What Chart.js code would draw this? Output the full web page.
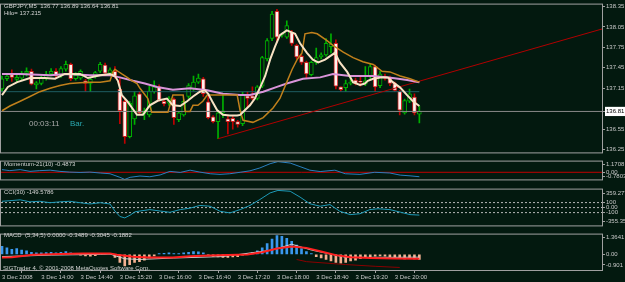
<!DOCTYPE html>
<html>
<head>
<meta charset="utf-8">
<script src="https://cdn.jsdelivr.net/npm/chart.js@4.4.1/dist/chart.umd.min.js"></script>
<style>
  body { margin: 0; background: #03190f; width: 625px; height: 282px; overflow: hidden; position: relative; font-family: 'Liberation Sans', Arial, sans-serif; }
  canvas { position: absolute; left: 0; }
  .t { position: absolute; font-size: 6px; line-height: 7px; color: #d4d4d4; white-space: pre; }
</style>
</head>
<body>
<canvas id="cMain" width="625" height="157" style="top:0"></canvas>
<canvas id="cMom" width="625" height="27" style="top:157px"></canvas>
<canvas id="cCci" width="625" height="45" style="top:185px"></canvas>
<canvas id="cMacd" width="625" height="52" style="top:230px"></canvas>

<div class="t" style="left:4px;top:3px">GBPJPY,M5  136.77 136.89 136.64 136.81</div>
<div class="t" style="left:4px;top:10px">Hilo= 137.215</div>
<div class="t" style="left:29px;top:119px;font-size:8px;line-height:9px;color:#a8a8a8">00:03:11</div>
<div class="t" style="left:70px;top:119px;font-size:8px;line-height:9px;color:#2aa8b0">Bar.</div>
<div class="t" style="left:4px;top:161px">Momentum-21(10) -0.4873</div>
<div class="t" style="left:4px;top:189px">CCI(30) -149.5786</div>
<div class="t" style="left:4px;top:232px">MACD  (5,34,5) 0.0000 -0.3489 -0.3045 -0.1882</div>
<div class="t" style="left:3px;top:265px">SIGTrader 4, © 2001-2008 MetaQuotes Software Corp.</div>

<script>
// GBPJPY M5, 3 Dec 2008 13:20 .. 20:25 (86 bars)
const opens  = [137.14,137.29,137.35,137.28,137.30,137.37,137.40,137.20,137.22,137.29,137.36,137.40,137.33,137.43,137.50,137.29,137.30,137.26,137.22,137.33,137.40,137.49,137.37,137.40,137.14,136.96,136.44,136.70,137.07,136.78,136.76,137.10,137.17,136.96,136.93,136.99,136.69,136.76,137.03,137.14,137.24,137.29,136.95,136.73,136.66,136.79,136.70,136.71,136.66,136.63,137.04,137.04,137.00,137.18,137.58,137.88,138.28,137.93,137.90,137.97,137.78,137.62,137.53,137.35,137.53,137.61,137.64,137.76,137.81,137.17,137.16,137.22,137.27,137.25,137.21,137.32,137.47,137.19,137.33,137.31,137.22,137.11,136.79,136.96,137.02,136.77];
const highs  = [137.33,137.36,137.42,137.34,137.40,137.45,137.43,137.25,137.33,137.40,137.44,137.44,137.47,137.55,137.52,137.38,137.42,137.28,137.31,137.40,137.53,137.52,137.45,137.47,137.31,136.99,136.96,137.10,137.10,136.86,137.18,137.26,137.20,136.98,137.03,137.01,136.80,136.98,137.22,137.33,137.36,137.31,137.04,136.75,136.82,137.07,136.75,136.74,136.68,137.09,137.10,137.17,137.19,137.62,137.88,138.28,138.31,137.96,138.14,138.00,137.80,137.64,137.55,137.55,137.74,137.67,137.88,137.95,137.86,137.17,137.27,137.31,137.30,137.33,137.47,137.50,137.49,137.40,137.36,137.33,137.24,137.12,136.99,137.14,137.07,136.89];
const lows   = [137.10,137.26,137.25,137.24,137.27,137.33,137.20,137.14,137.20,137.27,137.33,137.30,137.31,137.40,137.26,137.27,137.28,137.10,137.10,137.30,137.38,137.34,137.35,137.30,136.63,136.34,136.42,136.62,136.76,136.69,136.73,137.08,136.96,136.89,136.90,136.62,136.66,136.74,137.00,137.12,137.22,137.03,136.70,136.64,136.41,136.72,136.48,136.55,136.58,136.60,136.88,136.98,136.98,137.16,137.55,137.85,137.82,137.90,137.88,137.78,137.58,137.50,137.29,137.33,137.50,137.58,137.62,137.67,137.14,137.10,137.10,137.20,137.20,137.18,137.19,137.29,137.10,137.16,137.27,137.19,137.10,136.76,136.77,136.94,136.76,136.64];
const closes = [137.29,137.33,137.31,137.31,137.37,137.40,137.21,137.23,137.30,137.36,137.40,137.33,137.44,137.50,137.29,137.34,137.40,137.22,137.28,137.38,137.50,137.37,137.42,137.33,136.82,136.44,136.93,137.04,136.79,136.82,137.11,137.17,136.98,136.92,137.00,136.72,136.79,136.96,137.19,137.24,137.30,137.07,136.72,136.66,136.79,136.82,136.66,136.66,136.62,137.06,137.00,137.00,137.17,137.60,137.85,138.24,137.90,137.93,138.07,137.81,137.61,137.53,137.36,137.53,137.60,137.64,137.81,137.80,137.18,137.13,137.22,137.24,137.22,137.24,137.26,137.47,137.17,137.36,137.30,137.22,137.12,136.83,136.97,137.07,136.79,136.81];

// moving averages: [bar index, price]
const maFast = [[0,137.05],[1.2,137.17],[3.1,137.24],[5.7,137.30],[8.8,137.30],[10.8,137.29],[12.8,137.36],[15.9,137.36],[17.5,137.30],[20,137.34],[22,137.36],[23,137.33],[23.6,137.26],[24.4,137.05],[25.5,136.96],[26.5,136.86],[27.5,136.76],[28.7,136.76],[30.1,136.90],[31.8,136.97],[33.6,137.00],[34.8,136.90],[36.3,136.89],[37.7,136.96],[38.9,137.03],[40.3,137.10],[41.3,137.12],[42,137.07],[42.8,136.96],[43.8,136.83],[45,136.76],[46.4,136.75],[47.9,136.75],[48.5,136.76],[49.5,136.83],[50.5,136.90],[51.5,137.00],[52.5,137.15],[53.6,137.33],[54.6,137.57],[55.6,137.76],[56.6,137.93],[58,138.00],[59.7,137.95],[60.7,137.81],[62.1,137.67],[63.3,137.57],[64.4,137.53],[65.8,137.57],[67.2,137.64],[67.8,137.67],[68.8,137.53],[70.3,137.39],[71.5,137.24],[72.9,137.20],[73.9,137.22],[74.5,137.26],[75.6,137.29],[77.4,137.31],[78.6,137.31],[79.6,137.24],[81.1,137.16],[82.5,137.05],[83.7,136.96],[85,136.89]];
const maSlowOrange = [[0,136.82],[1.6,136.89],[3.7,136.96],[5.7,137.03],[7.7,137.10],[9.8,137.15],[11.8,137.19],[13.8,137.22],[15.9,137.23],[17.9,137.24],[20,137.24],[22,137.26],[22.6,137.39],[23,137.43],[23.6,137.40],[24.4,137.36],[25.5,137.31],[26.5,137.26],[27.5,137.22],[28.1,137.15],[29.7,137.00],[30.5,136.80],[33.8,136.80],[34.8,137.05],[36.9,137.05],[37.3,136.81],[38.3,136.81],[38.9,136.90],[39.9,136.90],[40.9,136.96],[41.8,137.05],[47.9,137.05],[48.5,136.82],[49.1,136.68],[51.1,136.65],[53.2,136.72],[55.2,136.86],[56.6,137.00],[58,137.24],[59.1,137.43],[60.1,137.57],[61.1,137.67],[61.7,137.95],[63.1,137.97],[64.2,137.95],[66.2,137.85],[67.4,137.78],[69.5,137.68],[71.5,137.60],[73.5,137.54],[75.6,137.50],[77.4,137.40],[79,137.39],[81.1,137.33],[83.1,137.29],[85,137.24]];
const maViolet = [[0,137.36],[3.7,137.36],[9.8,137.34],[13.2,137.36],[17.9,137.34],[22,137.34],[24,137.31],[26.7,137.26],[29.1,137.22],[31.6,137.17],[34.8,137.13],[38.3,137.15],[41.8,137.12],[45,137.07],[48.5,137.05],[50.5,137.05],[53.2,137.10],[56,137.17],[58,137.22],[61.3,137.29],[64.8,137.31],[67.4,137.36],[70.9,137.33],[75.6,137.33],[79.6,137.30],[82.5,137.27],[85,137.24]];
const trendLine = [[44,136.41],[122.2,138.02]];
const levelTeal = 137.10;
const bidPrice = 136.81;
const priceTicks = [136.25,136.55,136.81,137.15,137.45,137.75,138.05,138.35];

// indicators: [bar index, value]
const momentum = [[0,0.29],[1.6,0.18],[3.7,0.29],[5.7,0.10],[7.7,0.18],[9.8,0.23],[11.8,0.10],[13.8,0.02],[15.9,-0.02],[17.9,0.02],[20,-0.08],[22,-0.16],[24,-0.55],[25,-0.78],[26.1,-0.55],[28.1,-0.41],[30.1,-0.49],[32.2,-0.29],[34.2,0.10],[36.3,-0.02],[38.3,0.23],[40.3,0.02],[42.4,-0.16],[44.4,-0.23],[46.4,-0.16],[48.5,0.0],[50.5,0.16],[52.5,0.47],[54.6,0.94],[56.2,1.17],[58.7,1.01],[60.7,0.62],[62.7,0.23],[64.8,0.08],[67.8,0.23],[69.9,-0.16],[72.9,-0.23],[75.9,0.0],[79,-0.08],[81.1,-0.31],[83.1,-0.39],[85,-0.4873]];
const cci = [[0,126],[1.6,138],[3.7,155],[5.7,115],[7.7,126],[9.8,98],[11.8,115],[13.8,126],[15.9,98],[17.9,72],[20,98],[22,72],[23,-68],[24,-177],[25,-206],[26.1,-151],[27.1,-84],[28.1,-68],[30.1,-40],[32.2,-68],[34.2,-94],[36.3,-40],[38.3,-11],[40.3,43],[42.4,27],[44.4,-73],[46.4,-106],[48.5,-40],[50.5,43],[52.5,160],[54.6,293],[56.2,343],[58.7,326],[60.7,210],[62.7,77],[64.8,27],[66.8,60],[68.8,-73],[70.9,-140],[72.9,-123],[74.9,-40],[76.6,-23],[79,-40],[81.1,-90],[83.1,-140],[85,-149.58]];
const macdHist = [0.55,0.45,0.35,0.40,0.30,0.25,0.15,0.10,0.10,0.12,0.15,0.10,0.15,0.20,0.10,0.08,-0.05,-0.10,-0.12,-0.08,0.03,0.05,0.03,-0.20,-0.55,-0.80,-0.70,-0.55,-0.50,-0.40,-0.25,-0.10,0.05,0.08,0.10,0.05,0.05,0.10,0.15,0.20,0.18,0.10,-0.05,-0.15,-0.18,-0.20,-0.20,-0.18,-0.15,-0.05,0.05,0.12,0.25,0.45,0.75,1.05,1.30,1.25,1.10,0.90,0.65,0.40,0.20,0.05,-0.15,-0.25,-0.35,-0.45,-0.55,-0.60,-0.55,-0.45,-0.40,-0.30,-0.20,-0.15,-0.12,-0.10,-0.12,-0.15,-0.20,-0.28,-0.32,-0.30,-0.32,-0.3489];
const macdRed = [[0,-0.22],[2,-0.19],[6.3,-0.03],[9.8,0.01],[16.5,0.07],[22,0.07],[23.4,-0.03],[26.7,-0.16],[30.1,-0.22],[34.8,-0.22],[38.3,-0.13],[42.4,-0.07],[46,-0.05],[50,0.0],[53,0.15],[56,0.4],[59,0.55],[62,0.45],[65,0.2],[68,-0.05],[71,-0.2],[75,-0.25],[80,-0.28],[85,-0.3045]];
const macdGray = [[0,-0.15],[10,-0.05],[20,0.0],[22,0.02],[25,-0.3],[28,-0.35],[35,-0.25],[45,-0.15],[55,0.3],[59,0.7],[63,0.3],[70,-0.2],[80,-0.2],[85,-0.1882]];
const macdDark = [[60,-0.35],[62,-0.5],[70,-0.7],[76,-0.82],[81,-0.90]];

const timeTickIdx = [0,8,16,24,32,40,48,56,64,72,80];
const timeLabels = ['3 Dec 2008','3 Dec 14:00','3 Dec 14:40','3 Dec 15:20','3 Dec 16:00','3 Dec 16:40','3 Dec 17:20','3 Dec 18:00','3 Dec 18:40','3 Dec 19:20','3 Dec 20:00'];

const XMIN = -0.204, XMAX = 122.2;
const BG = '#03190f', AXIS = '#a0a0a0', TXT = '#c8c8c8';
const UP = '#00b000', DN = '#d02020';
const FONT = { family: "'Liberation Sans', Arial, sans-serif", size: 6 };

const frame = {
  id: 'frame',
  afterDraw(c) {
    const a = c.chartArea, g = c.ctx;
    g.save();
    g.strokeStyle = AXIS;
    g.lineWidth = 1;
    g.strokeRect(a.left - 0.5, a.top - 0.5, a.right - a.left + 1, a.bottom - a.top + 1);
    g.restore();
  }
};

const pts = arr => arr.map(p => ({ x: p[0], y: p[1] }));
const hline = (v, from = XMIN, to = XMAX) => [{ x: from, y: v }, { x: to, y: v }];
const line = (data, color, width, extra = {}) => Object.assign({
  type: 'line', data, borderColor: color, borderWidth: width, pointRadius: 0, tension: 0, order: 1
}, extra);

function xScale(show) {
  const s = { type: 'linear', min: XMIN, max: XMAX, offset: false, display: show, grid: { display: false } };
  if (show) {
    Object.assign(s, {
      afterBuildTicks: sc => { sc.ticks = timeTickIdx.map(v => ({ value: v })); },
      afterFit: sc => { sc.height = 12; },
      ticks: { autoSkip: false, maxRotation: 0, align: 'start', padding: 1, font: FONT, color: TXT,
               callback: (v, k) => timeLabels[k] },
      grid: { display: true, drawOnChartArea: false, tickLength: 3, color: AXIS },
      border: { color: AXIS }
    });
  }
  return s;
}

// y axis; labels = [[position value, text], ...]
function yScale(min, max, labels, extraTicks = {}) {
  return {
    position: 'right', min, max,
    afterBuildTicks: sc => { sc.ticks = labels.map(l => ({ value: l[0] })); },
    afterFit: sc => { sc.width = 23; },
    ticks: Object.assign({ autoSkip: false, padding: 1, font: FONT, color: TXT,
      callback: (v, k) => labels[k][1] }, extraTicks),
    grid: { drawOnChartArea: false, tickLength: 3, color: AXIS },
    border: { color: AXIS }
  };
}

function makeChart(id, datasets, yOpts, showX, pad) {
  return new Chart(document.getElementById(id), {
    type: 'bar',
    data: { datasets },
    options: {
      responsive: false, animation: false,
      layout: { padding: pad },
      plugins: { legend: { display: false }, tooltip: { enabled: false } },
      scales: { x: xScale(showX), y: yOpts }
    },
    plugins: [frame]
  });
}

// ---- main price panel
const idx = opens.map((_, i) => i);
const bull = idx.map(i => closes[i] >= opens[i]);
const mainSets = [
  { type: 'bar', data: idx.map(i => ({ x: i, y: [lows[i], highs[i]] })), grouped: false, barThickness: 1,
    backgroundColor: idx.map(i => bull[i] ? UP : '#c00000'), order: 6 },
  { type: 'bar', data: idx.map(i => ({ x: i, y: [opens[i], closes[i]] })), grouped: false, barThickness: 4,
    minBarLength: 1, borderSkipped: false, borderWidth: 1,
    backgroundColor: idx.map(i => bull[i] ? BG : '#fff2ee'), borderColor: idx.map(i => bull[i] ? UP : DN), order: 5 },
  line(hline(levelTeal, XMIN, 85), '#1f5e62', 1, { order: 4 }),
  line(hline(bidPrice), '#8a8a8a', 1, { order: 4 }),
  line(pts(trendLine), '#b00000', 1, { order: 3 }),
  line(pts(maSlowOrange), '#c0801c', 1.5, { order: 2 }),
  line(pts(maViolet), '#d994d9', 2, { order: 2 }),
  line(pts(maFast), '#f8e2c4', 2, { order: 1 })
];
makeChart('cMain', mainSets,
  yScale(136.209, 138.378, priceTicks.map(v => [v, v.toFixed(2)]), {
    color: c => c.tick && c.tick.value === bidPrice ? '#000' : TXT,
    showLabelBackdrop: c => !!(c.tick && c.tick.value === bidPrice),
    backdropColor: '#ffffff', backdropPadding: { top: 1, bottom: 1, left: 1, right: 3 }
  }), false, { left: 1, top: 3, bottom: 1, right: 0 });

// ---- momentum
makeChart('cMom', [
  line(hline(0), '#c00000', 1, { order: 2 }),
  line(pts(momentum), '#2a7fc0', 1, { order: 1 })
], yScale(-0.7803, 1.1708, [[0.86, '1.1708'], [0, '0.00'], [-0.47, '-0.7803']]), false,
  { left: 1, top: 1, bottom: 1, right: 0 });

// ---- CCI
makeChart('cCci', [
  line(hline(100), '#b8b8b8', 1, { borderDash: [2, 2], order: 2 }),
  line(hline(0), '#b8b8b8', 1, { borderDash: [2, 2], order: 2 }),
  line(hline(-100), '#b8b8b8', 1, { borderDash: [2, 2], order: 2 }),
  line(pts(cci), '#1e9ab8', 1, { order: 1 })
], yScale(-355.355, 359.2779, [[276, '359.2779'], [100, '100'], [0, '0.00'], [-100, '-100'], [-272, '-355.355']]), false,
  { left: 1, top: 1, bottom: 1, right: 0 });

// ---- MACD
makeChart('cMacd', [
  { type: 'bar', data: idx.map(i => ({ x: i, y: macdHist[i] })), grouped: false, barThickness: 2,
    backgroundColor: idx.map(i => macdHist[i] >= 0 ? '#3a98ee' : '#f4b090'), order: 5 },
  line(pts(macdDark), '#8a0000', 1, { order: 3 }),
  line(pts(macdGray), '#d0d0d0', 1, { order: 2 }),
  line(pts(macdRed), '#ff2020', 2, { order: 1 })
], yScale(-1.075, 1.3641, [[1.19, '1.3641'], [0, '0.00'], [-0.727, '-0.901']]), true,
  { left: 1, top: 1, bottom: 0, right: 0 });
</script>
</body>
</html>
